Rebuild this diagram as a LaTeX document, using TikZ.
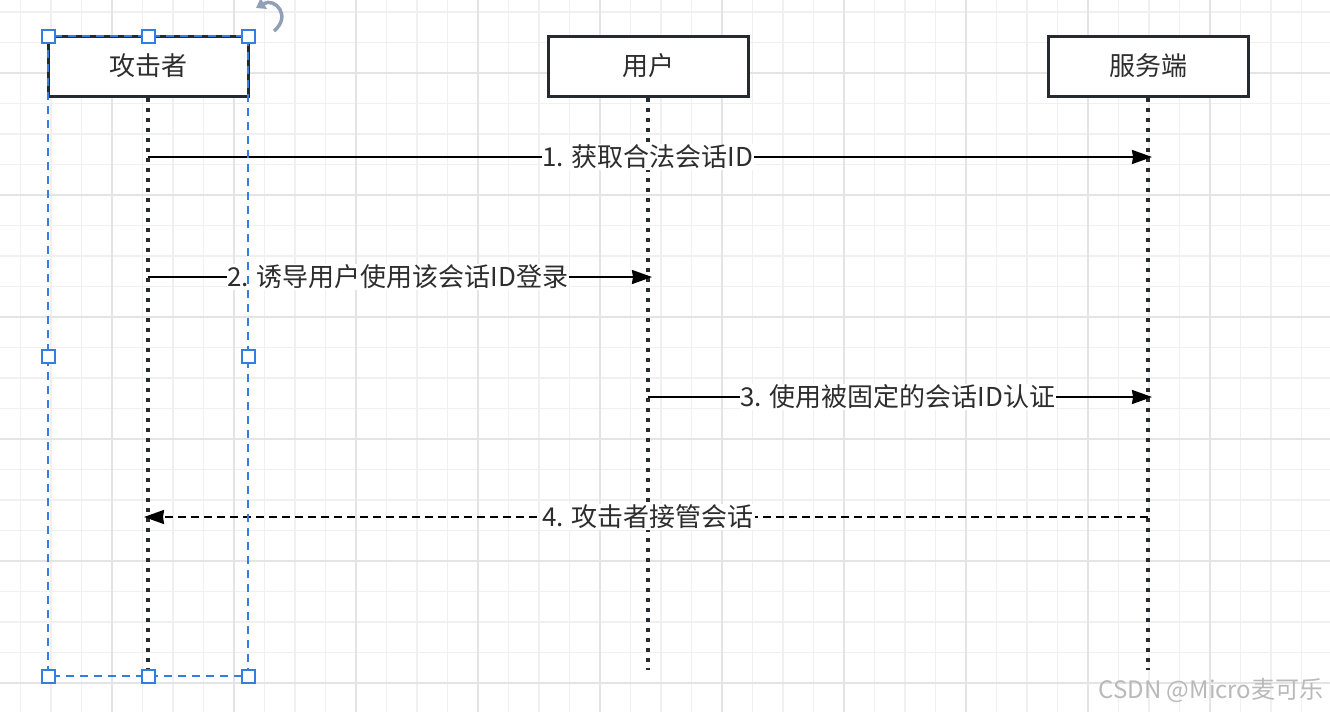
\documentclass[tikz,border=0pt]{standalone}
\usepackage{fontspec}
\setmainfont{Noto Sans CJK SC}
\usepackage{xcolor}
\usetikzlibrary{arrows.meta,positioning,calc}
\definecolor{seqDark}   {RGB}{38,  42,  46}
\definecolor{seqText}   {RGB}{45,  45,  45}
\definecolor{gridMinor} {RGB}{240, 240, 240}
\definecolor{gridMajor} {RGB}{228, 228, 228}
\definecolor{selBlue}   {RGB}{52, 125, 225}
\definecolor{rotGray}   {RGB}{145, 160, 182}
\definecolor{markGray}  {RGB}{185, 185, 185}

\tikzset{
  actor/.style={draw=seqDark,line width=3pt,fill=white,
                minimum width=200,minimum height=60,inner sep=0pt,
                text=seqText,font=\fontsize{26}{30}\selectfont},
  lifeline/.style={seqDark,line width=3.5pt,dash pattern=on 4pt off 6pt},
  msg/.style={-{Stealth[length=20pt,width=14pt,inset=1pt]},black,line width=2pt,
              shorten >=-4pt},
  msglabel/.style={fill=white,inner sep=1pt,text=seqText,
                   font=\fontsize{26}{30}\selectfont},
  handle/.style={draw=selBlue,fill=white,line width=2pt,
                 minimum size=13,inner sep=0pt}
}

\begin{document}
\begin{tikzpicture}[x=1pt,y=-1pt]
        \useasboundingbox (0,0) rectangle (1330,712);
        \fill[white] (0,0) rectangle (1330,712);

        % 网格
        \foreach \k in {-3,...,39}{
          \draw[gridMinor,line width=1.3pt] ({112+30.5*\k},0) -- ({112+30.5*\k},712);
        }
        \foreach \k in {-2,...,20}{
          \draw[gridMinor,line width=1.3pt] (0,{73+30.5*\k}) -- (1330,{73+30.5*\k});
        }
        \foreach \k in {0,...,9}{
          \draw[gridMajor,line width=1.8pt] ({112+122*\k},0) -- ({112+122*\k},712);
        }
        \foreach \k in {0,...,5}{
          \draw[gridMajor,line width=1.8pt] (0,{73+122*\k}) -- (1330,{73+122*\k});
        }

        % 参与者
        \node[actor] (atk) at (148,66) {攻击者};
        \node[actor] (usr) at (648,66) {用户};
        \node[actor] (srv) at (1148,66) {服务端};

        % 生命线
        \coordinate (lend) at (0,670);
        \draw[lifeline] (atk.south) -- (atk |- lend);
        \draw[lifeline] (usr.south) -- (usr |- lend);
        \draw[lifeline] (srv.south) -- (srv |- lend);

        % 消息
        \coordinate (m1) at (0,157);
        \coordinate (m2) at (0,277);
        \coordinate (m3) at (0,397);
        \coordinate (m4) at (0,517);
        \draw[msg] (atk |- m1) -- node[msglabel] (l1) {1. 获取合法会话ID} (srv |- m1);
        \draw[msg] (atk |- m2) -- node[msglabel] (l2) {2. 诱导用户使用该会话ID登录} (usr |- m2);
        \draw[msg] (usr |- m3) -- node[msglabel] (l3) {3. 使用被固定的会话ID认证} (srv |- m3);
        \draw[msg,dash pattern=on 8pt off 5pt] (srv |- m4) -- node[msglabel] (l4) {4. 攻击者接管会话} (atk |- m4);

        % 选中框
        \draw[selBlue,line width=1.6pt,dash pattern=on 8pt off 6pt] (48,36) rectangle (248,676);
        \foreach \x/\y/\n in {48/36/1, 148/36/2, 248/36/3, 48/356/4,
                              248/356/5, 48/676/6, 148/676/7, 248/676/8}{
          \node[handle] (h\n) at (\x,\y) {};
        }

        % 旋转图标
        \draw[rotGray,line width=3.5pt,-{Triangle[length=9pt,width=12pt]}]
             (274,31) .. controls (292,16) and (275,-3) .. (256,8);

        % 水印
        \node[font=\fontsize{24}{28}\selectfont,text=markGray,anchor=east] (wm) at (1327,690) {CSDN @Micro麦可乐};
      \end{tikzpicture}
\end{document}
